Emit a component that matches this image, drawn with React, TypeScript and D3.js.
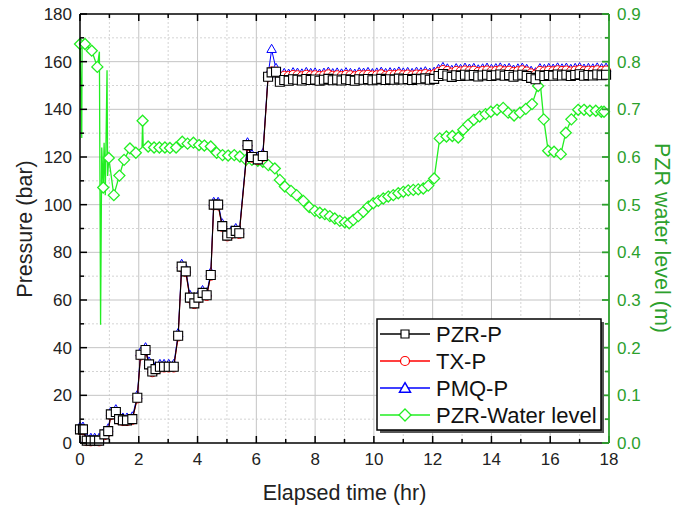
import React from "react";
import * as d3 from "d3";

// pressure samples (hr) shared by the three pressure series
const pressureTime = [
  0, 0.1, 0.23, 0.37, 0.5, 0.65, 0.83, 0.96, 1.05, 1.22, 1.33, 1.46, 1.6, 1.78, 1.95, 2.06,
  2.23, 2.35, 2.46, 2.57, 2.72, 2.86, 3.02, 3.19, 3.34, 3.46, 3.6, 3.74, 3.89, 4.03, 4.17,
  4.31, 4.45, 4.55, 4.7, 4.84, 5.01, 5.15, 5.3, 5.42, 5.7, 5.85, 6.05, 6.22, 6.4, 6.52, 6.67,
  6.8, 6.95, 7.1, 7.25, 7.4, 7.55, 7.7, 7.85, 8.0, 8.15, 8.3, 8.45, 8.6, 8.75, 8.9, 9.05,
  9.2, 9.35, 9.5, 9.65, 9.8, 9.95, 10.1, 10.25, 10.4, 10.55, 10.7, 10.85, 11.0, 11.15, 11.3,
  11.45, 11.6, 11.75, 11.9, 12.05, 12.2, 12.35, 12.5, 12.65, 12.8, 12.95, 13.1, 13.25, 13.4,
  13.55, 13.7, 13.85, 14.0, 14.15, 14.3, 14.45, 14.6, 14.75, 14.9, 15.05, 15.2, 15.35, 15.5,
  15.65, 15.8, 15.95, 16.1, 16.25, 16.4, 16.55, 16.7, 16.85, 17.0, 17.15, 17.3, 17.45, 17.6,
  17.75, 17.9,
];

const pzrP = [
  5.7, 5.7, 1, 1, 1, 1, 3.6, 5, 12, 13, 10, 9.5, 9.5, 10, 19, 37, 39, 33, 30, 31, 32, 32, 32,
  32, 45, 74, 72, 61, 58.6, 61, 63, 62, 70.5, 100, 100, 91, 87, 88, 89, 88, 125, 120, 119,
  120.4, 153.7, 155.5, 155.8,
  151.6, 152.3, 152.0, 152.6, 152.4, 152.1, 152.7, 152.3, 152.5, 152.0,
  152.4, 152.8, 152.2, 152.5, 152.1, 152.6, 152.3, 152.0, 152.6, 152.4,
  152.7, 152.2, 152.5, 152.8, 152.3, 152.6, 152.4, 152.9, 152.5, 152.7,
  152.3, 152.8, 152.6, 153.0, 152.4, 152.8, 154.0, 154.8, 154.2, 153.6,
  154.3, 154.0, 154.5, 154.1, 154.4, 153.8, 154.2, 154.5, 154.0, 154.3,
  154.6, 154.1, 154.4, 153.7, 154.2, 154.5, 154.0, 153.2, 152.6, 154.3,
  154.0, 154.4, 154.1, 154.6, 154.2, 154.5, 154.0, 154.4, 154.7, 154.1,
  154.4, 154.2, 154.6, 154.3, 154.5,
];

const txP = [
  5.4, 5.3, 0.7, 0.6, 0.7, 0.6, 3.2, 4.6, 11.6, 12.6, 9.6, 9.1, 9.1, 9.6, 18.6, 36.6, 38.6,
  32.6, 29.6, 30.6, 31.6, 31.6, 31.6, 31.6, 44.6, 73.6, 71.6, 60.6, 58.2, 60.6, 62.6, 61.6,
  70.1, 99.6, 99.6, 90.6, 86.6, 87.6, 88.6, 87.6, 124.6, 119.6, 118.6, 120.0, 153.6, 156.0,
  155.9,
  153.4, 154.2, 154.1, 154.5, 154.4, 154.0, 154.6, 154.3, 154.4, 154.1,
  154.3, 154.8, 154.2, 154.4, 154.1, 154.5, 154.4, 154.0, 154.5, 154.4,
  154.6, 154.3, 154.4, 154.8, 154.2, 154.6, 154.5, 154.8, 154.4, 154.7,
  154.3, 154.7, 154.6, 154.9, 154.5, 154.8, 155.8, 156.6, 156.2, 155.5,
  156.2, 156.0, 156.4, 156.1, 156.3, 155.8, 156.2, 156.4, 156.0, 156.2,
  156.5, 156.1, 156.3, 155.8, 156.1, 156.5, 156.0, 155.2, 154.7, 156.2,
  156.0, 156.3, 156.1, 156.5, 156.2, 156.4, 156.0, 156.3, 156.6, 156.1,
  156.3, 156.2, 156.5, 156.2, 156.4,
];

const pmqP = [
  6.5, 6.5, 1.8, 1.8, 1.8, 1.8, 4.4, 5.8, 12.8, 13.8, 10.8, 10.3, 10.3, 10.8, 19.8, 37.8,
  39.8, 33.8, 30.8, 31.8, 32.8, 32.8, 32.8, 32.8, 45.8, 74.8, 72.8, 61.8, 59.4, 61.8, 63.8,
  62.8, 71.3, 100.8, 100.8, 91.8, 87.8, 88.8, 89.8, 88.8, 125.8, 120.8, 119.8, 121.2, 154.5,
  165.0, 157.0,
  154.2, 154.9, 154.6, 155.2, 155.0, 154.7, 155.3, 154.9, 155.1, 154.6,
  155.0, 155.4, 154.8, 155.1, 154.7, 155.2, 154.9, 154.6, 155.2, 155.0,
  155.3, 154.8, 155.1, 155.4, 154.9, 155.2, 155.0, 155.5, 155.1, 155.3,
  154.9, 155.4, 155.2, 155.6, 155.0, 155.4, 156.6, 157.4, 156.8, 156.2,
  156.9, 156.6, 157.1, 156.7, 157.0, 156.4, 156.8, 157.1, 156.6, 156.9,
  157.2, 156.7, 157.0, 156.3, 156.8, 157.1, 156.6, 155.8, 155.2, 156.9,
  156.6, 157.0, 156.7, 157.2, 156.8, 157.1, 156.6, 157.0, 157.3, 156.7,
  157.0, 156.8, 157.2, 156.9, 157.1,
];

// water level markers (hr, m)
const levelTime = [
  0, 0.17, 0.4, 0.59, 0.79, 0.98, 1.15, 1.34, 1.5, 1.7, 1.9, 2.13, 2.32, 2.52, 2.7, 2.89,
  3.06, 3.27, 3.48, 3.66, 3.86, 4.05, 4.23, 4.45, 4.65, 4.85, 5.04, 5.25, 5.44, 5.65, 5.85,
  6.05, 6.22, 6.41, 6.63, 6.8, 6.97, 7.18, 7.37, 7.6, 7.8, 7.99, 8.16, 8.33, 8.5, 8.67, 8.84,
  9.01, 9.16, 9.3, 9.47, 9.64, 9.81, 9.98, 10.15, 10.32, 10.49, 10.66, 10.83, 11.0, 11.17,
  11.34, 11.51, 11.68, 11.85, 12.05, 12.24, 12.47, 12.67, 12.87, 13.04, 13.21, 13.4, 13.6,
  13.8, 13.98, 14.19, 14.4, 14.57, 14.77, 14.97, 15.17, 15.38, 15.59, 15.78, 15.93, 16.13,
  16.36, 16.53, 16.72, 16.95, 17.15, 17.35, 17.55, 17.74, 17.83,
];
const level = [
  0.837, 0.837, 0.823, 0.789, 0.536, 0.598, 0.52, 0.561, 0.594, 0.618, 0.609, 0.676, 0.622,
  0.62, 0.62, 0.62, 0.619, 0.62, 0.632, 0.628, 0.63, 0.625, 0.624, 0.622, 0.609, 0.604, 0.603,
  0.604, 0.601, 0.594, 0.594, 0.592, 0.59, 0.583, 0.576, 0.552, 0.538, 0.529, 0.52, 0.508,
  0.495, 0.487, 0.483, 0.48, 0.476, 0.471, 0.466, 0.463, 0.461, 0.468, 0.476, 0.485, 0.496,
  0.503, 0.508, 0.513, 0.517, 0.52, 0.524, 0.527, 0.53, 0.531, 0.532, 0.534, 0.54, 0.555,
  0.639, 0.643, 0.644, 0.641, 0.657, 0.668, 0.678, 0.685, 0.69, 0.695, 0.699, 0.703, 0.693,
  0.687, 0.693, 0.701, 0.711, 0.749, 0.679, 0.613, 0.611, 0.606, 0.651, 0.679, 0.699, 0.699,
  0.697, 0.697, 0.695, 0.695,
];
// extra samples on the level trace between markers (the spikes)
const spikeTime = [0.06, 0.07, 0.66, 0.7, 0.74, 0.82, 0.86, 0.92, 0.94, 2.11, 2.15, 15.64];
const spikeLevel = [0.64, 0.835, 0.821, 0.248, 0.62, 0.63, 0.52, 0.782, 0.56, 0.62, 0.624, 0.768];

const xTicks = [0, 2, 4, 6, 8, 10, 12, 14, 16, 18];
const pTicks = [0, 20, 40, 60, 80, 100, 120, 140, 160, 180];
const levelTicks = [0, 0.1, 0.2, 0.3, 0.4, 0.5, 0.6, 0.7, 0.8, 0.9];
const legendNames = ["PZR-P", "TX-P", "PMQ-P", "PZR-Water level"];

const FONT = "'Liberation Sans', Arial, sans-serif";
const GREEN = "#22ee22";
const AXIS_GREEN = "#2ca02c";

const square = (cx: number, cy: number, s = 9) =>
  `M${cx - s / 2},${cy - s / 2}h${s}v${s}h${-s}Z`;
const diamond = (cx: number, cy: number, r = 5.5) =>
  `M${cx},${cy - r}L${cx + r},${cy}L${cx},${cy + r}L${cx - r},${cy}Z`;
const triangle = (cx: number, cy: number, s = 9.5) => {
  const h = (s * Math.sqrt(3)) / 2;
  return `M${cx},${cy - (2 * h) / 3}L${cx + s / 2},${cy + h / 3}L${cx - s / 2},${cy + h / 3}Z`;
};

export default function App() {
  const left = 80, right = 609, top = 14, bottom = 443;
  const x = d3.scaleLinear().domain([0, 18]).range([left, right]);
  const yP = d3.scaleLinear().domain([0, 180]).range([bottom, top]);
  const yL = d3.scaleLinear().domain([0, 0.9]).range([bottom, top]);

  const pLine = (vals: number[]) =>
    d3.line<number>().x((_, i) => x(pressureTime[i])).y((d) => yP(d))(vals) || "";

  const levelTrace = levelTime
    .map((t, i) => [t, level[i]] as [number, number])
    .concat(spikeTime.map((t, i) => [t, spikeLevel[i]] as [number, number]))
    .sort((a, b) => a[0] - b[0]);
  const levelPath =
    d3.line<[number, number]>().x((d) => x(d[0])).y((d) => yL(d[1]))(levelTrace) || "";

  const xMinor = d3.range(1, 18, 2);
  const pMinor = d3.range(10, 180, 20);
  const lMinor = d3.range(0.05, 0.9, 0.1);

  const lg = { x: 377, y: 319, w: 224, h: 111 };
  const rowY = [334, 361, 388, 415];

  return (
    <svg
      width={688}
      height={507}
      style={{ position: "absolute", left: 0, top: 0, background: "#fff" }}
      fontFamily={FONT}
    >
      <rect width={688} height={507} fill="#fff" />
      {/* grid */}
      <g>
        {xMinor.map((t) => (
          <line key={"xm" + t} x1={x(t)} x2={x(t)} y1={top} y2={bottom} stroke="#d4d4d4" strokeDasharray="2,2" />
        ))}
        {pMinor.map((p) => (
          <line key={"pm" + p} x1={left} x2={right} y1={yP(p)} y2={yP(p)} stroke="#d4d4d4" strokeDasharray="2,2" />
        ))}
        {xTicks.slice(1, -1).map((t) => (
          <line key={"xg" + t} x1={x(t)} x2={x(t)} y1={top} y2={bottom} stroke="#c4c4c4" />
        ))}
        {pTicks.slice(1, -1).map((p) => (
          <line key={"pg" + p} x1={left} x2={right} y1={yP(p)} y2={yP(p)} stroke="#c4c4c4" />
        ))}
      </g>

      {/* water level */}
      <path d={levelPath} fill="none" stroke={GREEN} strokeWidth={1.3} />
      {levelTime.map((t, i) => (
        <path key={"wl" + i} d={diamond(x(t), yL(level[i]))} fill="#fff" stroke={GREEN} strokeWidth={1.3} />
      ))}

      {/* PMQ-P */}
      <path d={pLine(pmqP)} fill="none" stroke="#0000ff" strokeWidth={1} />
      {pmqP.map((v, i) => (
        <path key={"pm" + i} d={triangle(x(pressureTime[i]), yP(v))} fill="#fff" stroke="#0000ff" strokeWidth={1} />
      ))}
      {/* TX-P */}
      <path d={pLine(txP)} fill="none" stroke="#ff0000" strokeWidth={1} />
      {txP.map((v, i) => (
        <circle key={"tx" + i} cx={x(pressureTime[i])} cy={yP(v)} r={4.3} fill="#fff" stroke="#ff0000" strokeWidth={1} />
      ))}
      {/* PZR-P */}
      <path d={pLine(pzrP)} fill="none" stroke="#000" strokeWidth={1.1} />
      {pzrP.map((v, i) => (
        <path key={"pz" + i} d={square(x(pressureTime[i]), yP(v))} fill="#fff" stroke="#000" strokeWidth={1.1} />
      ))}

      {/* frame and ticks */}
      <g stroke="#000" strokeWidth={1.5}>
        <line x1={left} x2={left} y1={top} y2={bottom} />
        <line x1={left} x2={right} y1={top} y2={top} />
        <line x1={left} x2={right} y1={bottom} y2={bottom} />
        {xTicks.map((t) => (
          <g key={"xt" + t}>
            <line x1={x(t)} x2={x(t)} y1={bottom} y2={bottom - 7} />
            <line x1={x(t)} x2={x(t)} y1={top} y2={top + 7} />
          </g>
        ))}
        {xMinor.map((t) => (
          <g key={"xmt" + t}>
            <line x1={x(t)} x2={x(t)} y1={bottom} y2={bottom - 4} />
            <line x1={x(t)} x2={x(t)} y1={top} y2={top + 4} />
          </g>
        ))}
        {pTicks.map((p) => (
          <line key={"pt" + p} x1={left} x2={left + 7} y1={yP(p)} y2={yP(p)} />
        ))}
        {pMinor.map((p) => (
          <line key={"pmt" + p} x1={left} x2={left + 4} y1={yP(p)} y2={yP(p)} />
        ))}
      </g>
      <g stroke={AXIS_GREEN} strokeWidth={1.8}>
        <line x1={right} x2={right} y1={top} y2={bottom} />
        {levelTicks.map((l) => (
          <line key={"lt" + l} x1={right} x2={right - 7} y1={yL(l)} y2={yL(l)} />
        ))}
        {lMinor.map((l) => (
          <line key={"lmt" + l} x1={right} x2={right - 4} y1={yL(l)} y2={yL(l)} />
        ))}
      </g>

      {/* tick labels */}
      <g fontSize={17} fill="#222">
        {xTicks.map((t) => (
          <text key={"xl" + t} x={x(t)} y={bottom + 22} textAnchor="middle">
            {t}
          </text>
        ))}
        {pTicks.map((p) => (
          <text key={"pl" + p} x={left - 8} y={yP(p)} dy="0.36em" textAnchor="end">
            {p}
          </text>
        ))}
      </g>
      <g fontSize={17} fill={AXIS_GREEN}>
        {levelTicks.map((l) => (
          <text key={"ll" + l} x={right + 8} y={yL(l)} dy="0.36em" textAnchor="start">
            {d3.format(".1f")(l)}
          </text>
        ))}
      </g>

      {/* axis titles */}
      <text x={(left + right) / 2} y={500} textAnchor="middle" fontSize={21.5} fill="#222">
        Elapsed time (hr)
      </text>
      <text transform="translate(32,229) rotate(-90)" textAnchor="middle" fontSize={21.5} fill="#222">
        Pressure (bar)
      </text>
      <text transform="translate(655,238) rotate(90)" textAnchor="middle" fontSize={21.5} fill={AXIS_GREEN}>
        PZR water level (m)
      </text>

      {/* legend */}
      <rect x={lg.x + 3} y={lg.y + 3} width={lg.w} height={lg.h} fill="#555" />
      <rect x={lg.x} y={lg.y} width={lg.w} height={lg.h} fill="#fff" stroke="#000" strokeWidth={1.5} />
      {legendNames.map((name, i) => {
        const cy = rowY[i];
        const colors = ["#000", "#ff0000", "#0000ff", GREEN];
        const mx = 405;
        return (
          <g key={name}>
            <line x1={380} x2={430} y1={cy} y2={cy} stroke={colors[i]} strokeWidth={1.3} />
            {i === 0 && <path d={square(mx, cy, 8)} fill="#fff" stroke="#000" strokeWidth={1.2} />}
            {i === 1 && <circle cx={mx} cy={cy} r={4.5} fill="#fff" stroke="#ff0000" strokeWidth={1.2} />}
            {i === 2 && <path d={triangle(mx, cy + 1, 11)} fill="#fff" stroke="#0000ff" strokeWidth={1.5} />}
            {i === 3 && <path d={diamond(mx, cy, 6)} fill="#fff" stroke={GREEN} strokeWidth={1.3} />}
            <text x={436} y={cy} dy="0.36em" fontSize={22} fill="#111">
              {name}
            </text>
          </g>
        );
      })}
    </svg>
  );
}
